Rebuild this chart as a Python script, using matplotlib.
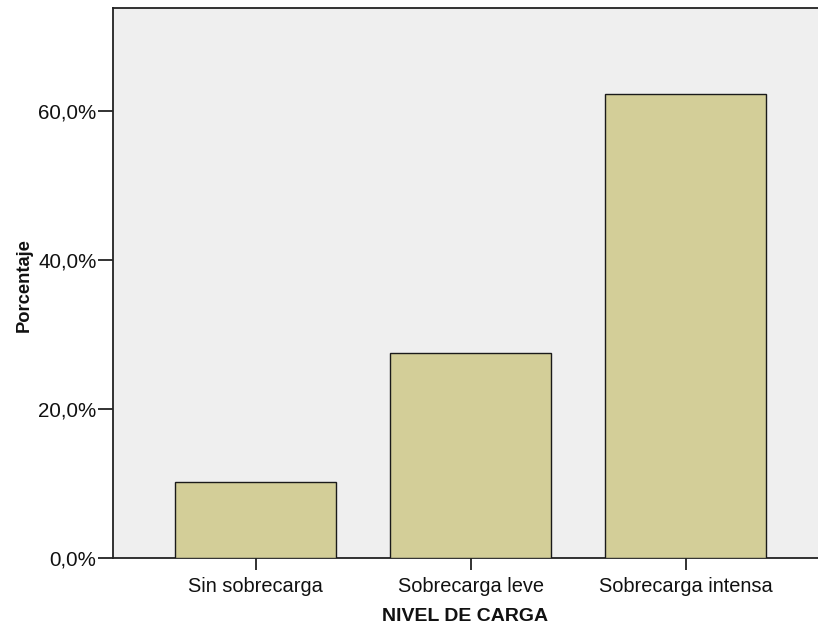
import matplotlib
matplotlib.use("Agg")
import matplotlib.pyplot as plt
from matplotlib.ticker import FuncFormatter

categories = ["Sin sobrecarga", "Sobrecarga leve", "Sobrecarga intensa"]
percentages = [10.2, 27.5, 62.3]
ytick_values = [0, 20, 40, 60]

plt.rcParams['font.family'] = ['Liberation Sans', 'DejaVu Sans']

fig = plt.figure(figsize=(8.18, 6.28), dpi=100)
ax = fig.add_axes([113/818, 1 - 558/628, 1 - 113/818, 550/628])
ax.set_facecolor("#EFEFEF")

x = list(range(len(categories)))
ax.bar(x, percentages, width=0.749, color="#D3CE98", edgecolor="#1a1a1a", linewidth=1.0, zorder=3)

ax.set_xlim(-0.663, 2.616)
ax.set_ylim(0, 73.8)
ax.set_yticks(ytick_values)
ax.yaxis.set_major_formatter(FuncFormatter(lambda v, p: f"{v:.1f}".replace(".", ",") + "%"))
ax.set_xticks(x)
ax.set_xticklabels(categories)

for side in ["left", "top", "bottom"]:
    ax.spines[side].set_color("#222222")
    ax.spines[side].set_linewidth(1.3)
ax.spines["right"].set_visible(False)

ax.tick_params(axis="y", length=10.8, width=1.3, color="#222222", pad=1, labelsize=14.8, labelcolor="#111111")
ax.tick_params(axis="x", length=8.6, width=1.3, color="#222222", pad=5, labelsize=14.4, labelcolor="#111111")

ax.set_xlabel("NIVEL DE CARGA", fontsize=14, fontweight="bold", color="#111111", labelpad=9)
fig.text(24/818, 1 - 285/628, "Porcentaje", rotation=90, fontsize=13.2, fontweight="bold",
         color="#111111", ha="center", va="center")

fig.savefig("out.png", dpi=100)
